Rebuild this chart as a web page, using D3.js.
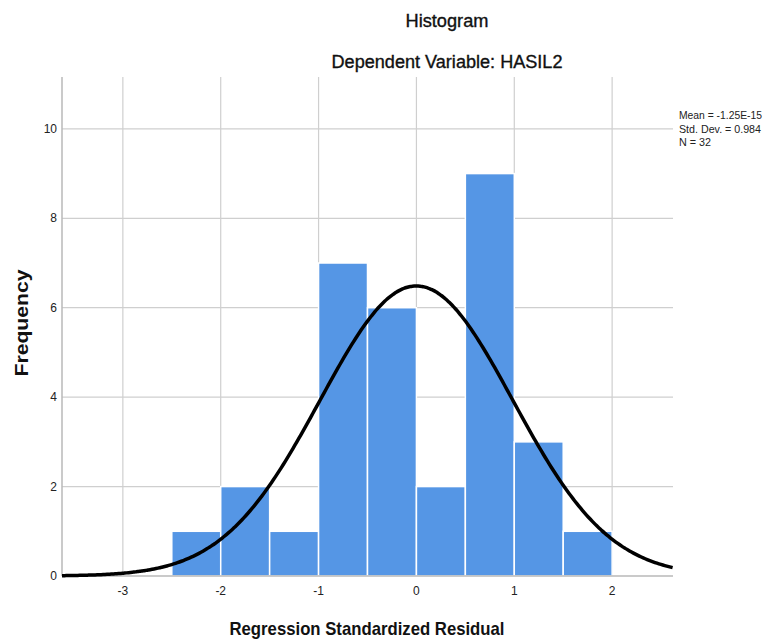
<!DOCTYPE html>
<html><head><meta charset="utf-8">
<script src="https://cdn.jsdelivr.net/npm/d3@7"></script>
<style>body{margin:0;background:#fff}</style>
</head><body>
<svg id="c" width="773" height="642"></svg>
<script>
const binStarts = [-2.5, -2.0, -1.5, -1.0, -0.5, 0.0, 0.5, 1.0, 1.5];
const binWidth = 0.5;
const counts = [1, 2, 1, 7, 6, 2, 9, 3, 1];
const xTicks = [-3, -2, -1, 0, 1, 2];
const yTicks = [0, 2, 4, 6, 8, 10];
const stats = {mean: -1.25e-15, sd: 0.984, n: 32};
const legendLines = ["Mean = -1.25E-15", "Std. Dev. = 0.984", "N = 32"];

const svg = d3.select("#c");
const L = 62, R = 673, T = 77, B = 576;
const x = d3.scaleLinear().domain([-3.622, 2.622]).range([L, R]);
const y = d3.scaleLinear().domain([0, 11.16]).range([B, T]);
const grid = "#cfcfcf";

// gridlines
svg.append("g").selectAll("line").data(yTicks.filter(d=>d>0)).join("line")
  .attr("x1", L).attr("x2", R).attr("y1", d=>y(d)).attr("y2", d=>y(d))
  .attr("stroke", grid).attr("stroke-width", 1.2);
svg.append("g").selectAll("line").data(xTicks).join("line")
  .attr("x1", d=>x(d)).attr("x2", d=>x(d)).attr("y1", T).attr("y2", B)
  .attr("stroke", grid).attr("stroke-width", 1.2);

// bars
svg.append("g").selectAll("rect").data(binStarts).join("rect")
  .attr("x", (d)=>x(d)).attr("width", x(binWidth)-x(0))
  .attr("y", (d,i)=>y(counts[i])).attr("height", (d,i)=>B-y(counts[i]))
  .attr("fill", "#5596e5").attr("stroke", "#ffffff").attr("stroke-width", 1.5);

// axes lines
svg.append("line").attr("x1", L).attr("x2", L).attr("y1", T).attr("y2", B).attr("stroke", "#b8b8b8").attr("stroke-width", 1.5);
svg.append("line").attr("x1", L).attr("x2", R).attr("y1", B).attr("y2", B).attr("stroke", "#b8b8b8").attr("stroke-width", 1.5);

// normal curve from displayed stats
const xs = d3.range(-3.622, 2.6221, 0.02);
const pdf = v => stats.n * binWidth * Math.exp(-0.5*Math.pow((v-stats.mean)/stats.sd,2)) / (stats.sd*Math.sqrt(2*Math.PI));
svg.append("path").datum(xs)
  .attr("d", d3.line().x(d=>x(d)).y(d=>y(pdf(d))).curve(d3.curveMonotoneX))
  .attr("fill", "none").attr("stroke", "#000").attr("stroke-width", 3.5);

// tick labels
const font = "'Liberation Sans', Arial, sans-serif";
svg.append("g").selectAll("text").data(xTicks).join("text")
  .attr("x", d=>x(d)).attr("y", 595).attr("text-anchor", "middle")
  .attr("font-family", font).attr("font-size", 12).attr("fill", "#222")
  .text(d=>d);
svg.append("g").selectAll("text").data(yTicks).join("text")
  .attr("x", 57).attr("y", d=>y(d)+4).attr("text-anchor", "end")
  .attr("font-family", font).attr("font-size", 12).attr("fill", "#222")
  .text(d=>d);

// titles
svg.append("text").attr("x", 447).attr("y", 27).attr("text-anchor", "middle")
  .attr("font-family", font).attr("font-size", 17.5).attr("fill", "#111")
  .attr("stroke", "#111").attr("stroke-width", 0.35)
  .attr("textLength", 83).attr("lengthAdjust", "spacingAndGlyphs").text("Histogram");
svg.append("text").attr("x", 447).attr("y", 68).attr("text-anchor", "middle")
  .attr("font-family", font).attr("font-size", 17.5).attr("fill", "#111")
  .attr("stroke", "#111").attr("stroke-width", 0.35)
  .attr("textLength", 231).attr("lengthAdjust", "spacingAndGlyphs").text("Dependent Variable: HASIL2");
svg.append("text").attr("x", 367).attr("y", 635).attr("text-anchor", "middle")
  .attr("font-family", font).attr("font-size", 18.5).attr("font-weight", "bold").attr("fill", "#111")
  .attr("textLength", 275).attr("lengthAdjust", "spacingAndGlyphs").text("Regression Standardized Residual");
svg.append("text").attr("transform", "translate(28,323) rotate(-90)").attr("text-anchor", "middle")
  .attr("font-family", font).attr("font-size", 18).attr("font-weight", "bold").attr("fill", "#111")
  .attr("textLength", 107).attr("lengthAdjust", "spacingAndGlyphs").text("Frequency");

// legend
svg.append("g").selectAll("text").data(legendLines).join("text")
  .attr("x", 679).attr("y", (d,i)=>119+i*13.5)
  .attr("font-family", font).attr("font-size", 11.5).attr("fill", "#222")
  .attr("textLength", (d,i)=>[83,82,32][i]).attr("lengthAdjust", "spacingAndGlyphs")
  .text(d=>d);
</script>
</body></html>
